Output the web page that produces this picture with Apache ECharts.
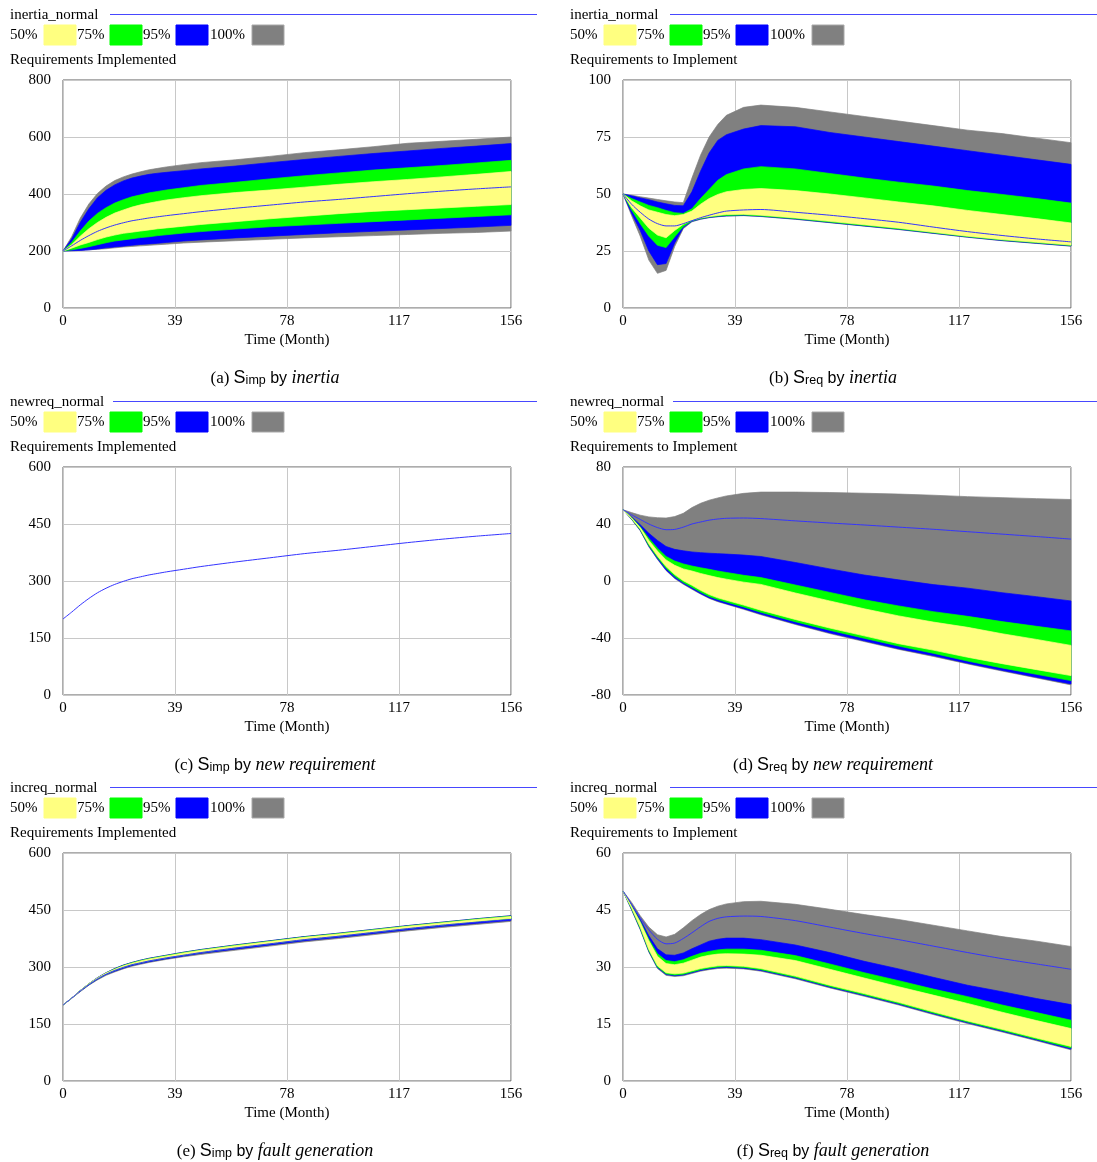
<!DOCTYPE html>
<html><head><meta charset="utf-8">
<script src="https://cdn.jsdelivr.net/npm/echarts@6/dist/echarts.min.js"></script>
<style>html,body{margin:0;padding:0;background:#fff}#c{width:1097px;height:1162px}</style>
</head><body><div id="c"></div>
<script>
// ---- time axis ----
const months = [0,3,6,9,12,15,18,21,24,27,30,33,36,42,48,60,72,84,96,108,120,132,144,156];
const xTicks = [0,39,78,117,156];

// ---- tick labels per panel (y) ----
const yTicksA = [0,200,400,600,800];
const yTicksB = [0,25,50,75,100];
const yTicksC = [0,150,300,450,600];
const yTicksD = [-80,-40,0,40,80];
const yTicksE = [0,150,300,450,600];
const yTicksF = [0,15,30,45,60];

// ---- legend / text ----
const legendLabels = ['50%','75%','95%','100%'];
const panelTitles = ['inertia_normal','newreq_normal','increq_normal'];
const yTitles = ['Requirements Implemented','Requirements to Implement'];
const captionLetters = ['a','b','c','d','e','f'];
const captionSubs = ['imp','req','imp','req','imp','req'];
const captionFactors = ['inertia','inertia','new requirement','new requirement','fault generation','fault generation'];

// ---- (a) Simp by inertia ----
const aGrayLo  = [200,201,202,204,206,208,211,214,216,218,220,222,224,228,231,236,241,246,250,254,258,262,265,270];
const aBlueLo  = [200,201,202,204,207,211,214,217,220,223,225,227,230,235,239,246,252,258,264,269,274,279,284,290];
const aGreenLo = [200,204,209,215,222,229,235,239,243,247,250,254,257,263,268,277,285,291,297,303,309,315,321,327];
const aYelLo   = [200,210,221,230,240,249,256,262,266,270,274,278,281,287,293,303,313,322,331,339,345,351,357,363];
const aYelHi   = [200,222,252,278,300,318,333,344,354,362,368,374,379,387,394,405,414,424,434,443,451,460,469,479];
const aGreenHi = [200,230,270,305,332,352,368,380,390,397,404,409,414,422,430,441,453,464,474,484,492,500,509,518];
const aBlueHi  = [200,242,300,348,387,413,432,446,456,463,469,473,476,482,488,498,510,521,532,542,551,560,568,577];
const aGrayHi  = [200,250,315,365,402,428,447,460,470,478,485,490,495,503,510,520,532,545,555,566,578,585,592,600];
const aBase    = [200,218,237,254,269,281,291,299,306,311,316,320,324,331,338,350,361,372,381,391,401,410,418,425];

// ---- (b) Sreq by inertia ----
const bGrayLo  = [50,40.5,31.5,21,15.2,16.5,27,34.8,37.8,38.9,39.6,40,40.3,40.5,40.1,38.9,37.4,35.9,34.4,32.7,31,29.5,28.3,27.1];
const bBlueLo  = [50,41.5,34,25,19,19.5,28.5,35.3,38,39,39.7,40.1,40.4,40.6,40.2,39,37.5,36,34.5,32.8,31.1,29.6,28.4,27.2];
const bGreenLo = [50,43,37,31.5,27.5,26.5,31.2,35.8,38.2,39.2,39.9,40.3,40.6,40.8,40.4,39.2,37.7,36.2,34.7,33,31.3,29.8,28.6,27.4];
const bYelLo   = [50,44,39.5,35,32,30.8,34,36.7,38.5,39.5,40.1,40.6,41,41.1,40.7,39.5,38,36.5,35,33.2,31.5,30,28.8,27.6];
const bYelHi   = [50,47,44.8,43,42,41,40.5,41,42.5,45.5,48,49.8,51,52,52.4,51.5,50,48.3,46.5,44.8,42.8,41,39.2,37.3];
const bGreenHi = [50,48,46.5,45,44,42.8,41.8,41.5,43.5,48,52,56,58.5,61,62,61,59,57,55.2,53.5,51.5,49.8,48,46];
const bBlueHi  = [50,49.2,48.3,47.5,46.5,45.7,45,44.8,51,60,68,73.5,76,78.5,80,79.5,77,75,73,71,69,67,65,63];
const bGrayHi  = [50,49.5,48.8,48.2,47.6,47,46.5,46.2,57,67,75,80.5,84.5,88,89,88,86,84,82,80,78,76.5,74.5,72.5];
const bBase    = [50,45.5,42,39,37,36,36,37,38.3,39.6,40.7,41.7,42.5,43,43.2,42,40.7,39.2,37.6,35.5,33.5,31.8,30.3,29];

// ---- (c) Simp by new requirement ----
const cBase    = [200,218,237,254,269,281,291,299,306,311,316,320,324,331,338,350,361,372,381,391,401,410,418,425];

// ---- (d) Sreq by new requirement ----
const dGrayLo  = [50,43.2,35.3,24,15.2,7.3,1.7,-2.3,-5.8,-9.2,-12.2,-14.5,-16.3,-19.9,-23.7,-30.5,-36.9,-42.5,-48,-52.9,-58.2,-63.2,-68,-72.9];
const dBlueLo  = [50,43.4,35.6,24.4,15.6,7.8,2.2,-1.8,-5.3,-8.8,-11.8,-14.1,-15.9,-19.4,-23.2,-30,-36.4,-42,-47.5,-52.3,-57.7,-62.7,-67.5,-72.2];
const dGreenLo = [50,43.6,36,25,16.5,9,3.3,-1,-4.3,-7.8,-10.8,-13,-14.8,-18.2,-22,-28.6,-34.6,-40.2,-45.7,-50.7,-56.2,-61,-65.5,-69.9];
const dYelLo   = [50,43.8,36.5,26,17.5,10.1,4.5,0.2,-3,-6.5,-9.5,-11.8,-13.5,-16.9,-20.5,-27,-33,-38.5,-44,-48.5,-53.5,-58,-62.2,-66.4];
const dYelHi   = [50,44.2,37.5,28.5,21,14.8,11,8.5,7,5.3,3.8,2.4,1.3,-0.8,-2.4,-8.4,-14,-19.5,-24.5,-28.8,-32.5,-37,-41,-45.2];
const dGreenHi = [50,44.5,38,30,23,17.2,14,12,10.5,9.3,8.2,7,6,4,2.4,-2.8,-8,-13.2,-17.5,-21.5,-24.8,-28.5,-31.8,-35];
const dBlueHi  = [50,45,39.5,33.5,28.5,24.2,22.2,21.2,20.4,19.9,19.5,19.2,18.9,18.2,17.2,13,8.5,4.2,0.8,-2.5,-5,-8.2,-11,-14];
const dGrayHi  = [50,48,46.2,45,44.4,44.2,45.2,47.5,51.5,54.5,56.7,58.3,59.7,61.5,62.4,62.4,62.1,61.6,61,60.2,59.2,58.5,57.8,57.2];
const dBase    = [50,46.5,43.2,40,37.5,36,36.2,37.8,40,41.4,42.7,43.5,44,44.2,43.8,42.2,40.7,39.3,37.8,36.3,34.6,32.9,31.2,29.4];

// ---- (e) Simp by fault generation ----
const eGrayLo  = [200,217,235,252,266,278,287,295,302,307,312,316,320,327,333,344,355,366,375,385,395,404,412,420];
const eBlueLo  = [200,218,236,253,268,280,289,297,304,309,314,318,322,329,336,347,358,369,378,388,398,407,415,423];
const eGreenLo = [200,218,237,254,269,281,291,299,306,311,316,320,324,331,338,350,361,372,381,391,401,410,419,427];
const eYelLo   = [200,218,237,255,270,282,292,300,307,312,317,321,325,332,339,351,362,373,382,392,402,411,420,428];
const eYelHi   = [200,218,238,256,271,284,294,303,310,316,321,325,329,337,344,356,367,378,387,397,407,416,425,433];
const eGreenHi = [200,218,238,256,271,284,295,304,311,317,322,326,330,338,345,357,368,379,388,398,408,417,426,434];
const eBlueHi  = [200,218,238,256,272,285,296,305,312,318,323,327,331,339,346,358,369,380,389,399,409,418,427,435];
const eGrayHi  = [200,218,238,256,272,285,296,305,312,318,323,327,331,339,346,358,369,380,389,399,409,418,427,435];
const eBase    = [200,218,237,254,269,281,291,299,306,311,316,320,324,331,338,350,361,372,381,391,401,410,418,425];

// ---- (f) Sreq by fault generation ----
const fGrayLo  = [50,45,39.8,33.9,29.6,27.8,27.5,27.7,28.3,28.9,29.3,29.6,29.7,29.5,28.9,26.9,24.5,22.3,20,17.5,15.1,12.9,10.6,8.2];
const fBlueLo  = [50,45.1,40,34.1,29.8,28,27.7,27.9,28.5,29.1,29.5,29.8,29.9,29.7,29.1,27.1,24.7,22.5,20.2,17.7,15.3,13.1,10.8,8.4];
const fGreenLo = [50,45.3,40.2,34.3,30,28.2,27.9,28.1,28.7,29.3,29.7,30,30.1,29.9,29.3,27.3,24.9,22.7,20.4,17.9,15.5,13.3,11,8.7];
const fYelLo   = [50,45.5,40.5,34.6,30.3,28.5,28.2,28.4,29,29.6,30,30.3,30.4,30.2,29.6,27.6,25.2,23,20.7,18.2,15.8,13.6,11.3,9.1];
const fYelHi   = [50,45.9,41.8,36.9,32.8,30.9,30.6,31,31.8,32.6,33.1,33.4,33.5,33.4,33.1,31.7,29.4,27.1,24.8,22.6,20.4,18.1,15.9,13.8];
const fGreenHi = [50,46,42,37.3,33.5,31.7,31.4,31.9,32.8,33.6,34.1,34.5,34.7,34.7,34.4,33,30.8,28.5,26.4,24.2,22.2,20,18,16];
const fBlueHi  = [50,46.2,42.5,38.2,34.8,33.2,33.1,33.7,34.8,35.8,36.8,37.3,37.6,37.6,37.2,35.8,33.8,31.5,29.5,27.3,25.2,23.5,21.7,20.1];
const fGrayHi  = [50,47,43.5,40.5,38.5,37.9,38.6,40.3,42.2,43.8,45.1,46,46.6,47.2,47.3,46.5,45.2,43.8,42.5,41,39.5,38,36.8,35.4];
const fBase    = [50,46.5,43,39.8,37.3,36.1,36.3,37.5,39,40.6,42,42.8,43.2,43.4,43.3,42.2,40.5,38.8,37.2,35.5,33.8,32.2,30.8,29.4];

// ---- styling ----
const C_YEL = '#ffff80', C_GRN = '#00ff00', C_BLU = '#0000ff', C_GRY = '#808080', C_LINE = '#3434ff';
const SERIF = '"Liberation Serif", "Times New Roman", serif';
const SANS = '"Liberation Sans", Arial, sans-serif';

const panels = [
  {yt: yTicksA, bands: [[aGrayLo,aGrayHi],[aBlueLo,aBlueHi],[aGreenLo,aGreenHi],[aYelLo,aYelHi]], base: aBase},
  {yt: yTicksB, bands: [[bGrayLo,bGrayHi],[bBlueLo,bBlueHi],[bGreenLo,bGreenHi],[bYelLo,bYelHi]], base: bBase},
  {yt: yTicksC, bands: [], base: cBase},
  {yt: yTicksD, bands: [[dGrayLo,dGrayHi],[dBlueLo,dBlueHi],[dGreenLo,dGreenHi],[dYelLo,dYelHi]], base: dBase},
  {yt: yTicksE, bands: [[eGrayLo,eGrayHi],[eBlueLo,eBlueHi],[eGreenLo,eGreenHi],[eYelLo,eYelHi]], base: eBase},
  {yt: yTicksF, bands: [[fGrayLo,fGrayHi],[fBlueLo,fBlueHi],[fGreenLo,fGreenHi],[fYelLo,fYelHi]], base: fBase}
];
const bandColors = [C_GRY, C_BLU, C_GRN, C_YEL];
const legendColors = [C_YEL, C_GRN, C_BLU, C_GRY];
const rowOffsets = [0, 387, 773];

const grids = [], xAxes = [], yAxes = [], series = [], graphics = [];
const labelStyle = {fontFamily: SERIF, fontSize: 15, color: '#000'};

panels.forEach(function (p, i) {
  const col = i % 2, row = Math.floor(i / 2);
  const ox = col * 560, oy = rowOffsets[row];
  grids.push({left: ox + 63, top: oy + 80, width: 448, height: 228, show: true,
    borderColor: '#5a5a5a', borderWidth: 1, backgroundColor: '#fff'});
  xAxes.push({type: 'value', gridIndex: i, min: xTicks[0], max: xTicks[xTicks.length - 1],
    interval: xTicks[1] - xTicks[0], axisLine: {show: false}, axisTick: {show: false},
    axisLabel: Object.assign({margin: 6}, labelStyle),
    splitLine: {show: true, lineStyle: {color: '#c8c8c8', width: 1}},
    name: 'Time (Month)', nameLocation: 'middle', nameGap: 25,
    nameTextStyle: {fontFamily: SERIF, fontSize: 15, color: '#000'}});
  yAxes.push({type: 'value', gridIndex: i, min: p.yt[0], max: p.yt[p.yt.length - 1],
    interval: p.yt[1] - p.yt[0], axisLine: {show: false}, axisTick: {show: false},
    axisLabel: Object.assign({margin: 12}, labelStyle),
    splitLine: {show: true, lineStyle: {color: '#c8c8c8', width: 1}}});

  p.bands.forEach(function (b, k) {
    const lo = b[0], hi = b[1], color = bandColors[k];
    series.push({
      type: 'custom', coordinateSystem: 'cartesian2d', xAxisIndex: i, yAxisIndex: i,
      silent: true, z: 2 + k * 0.01,
      data: [[months[0], lo[0]]],
      renderItem: function (params, api) {
        const pts = [];
        for (let j = 0; j < months.length; j++) pts.push(api.coord([months[j], hi[j]]));
        for (let j = months.length - 1; j >= 0; j--) pts.push(api.coord([months[j], lo[j]]));
        return {type: 'polygon', shape: {points: pts},
          style: {fill: color, stroke: color, lineWidth: 0.7}};
      }
    });
  });
  series.push({type: 'line', xAxisIndex: i, yAxisIndex: i, silent: true, z: 3,
    data: months.map(function (t, j) { return [t, p.base[j]]; }),
    symbol: 'none', smooth: 0.25, lineStyle: {color: C_LINE, width: 1}});

  // panel header: title + base-run line
  const title = panelTitles[row];
  graphics.push({type: 'text', x: ox + 10, y: oy + 15,
    style: {text: title, font: '15px ' + SERIF, fill: '#000', verticalAlign: 'middle', align: 'left'}});
  graphics.push({type: 'line', shape: {x1: ox + (row === 1 ? 113 : 110), y1: oy + 14.5, x2: ox + 537, y2: oy + 14.5},
    style: {stroke: '#4848ff', lineWidth: 1}});
  // legend row
  const lx = [10, 77, 143, 210], bx = [44, 110, 176, 252];
  legendLabels.forEach(function (lab, k) {
    graphics.push({type: 'text', x: ox + lx[k], y: oy + 35,
      style: {text: lab, font: '15px ' + SERIF, fill: '#000', verticalAlign: 'middle', align: 'left'}});
    graphics.push({type: 'rect', shape: {x: ox + bx[k], y: oy + 25, width: 32, height: 20},
      style: {fill: legendColors[k], stroke: k === 3 ? '#a8a8a8' : legendColors[k], lineWidth: 1}});
  });
  // y axis title
  graphics.push({type: 'text', x: ox + 10, y: oy + 60,
    style: {text: yTitles[col], font: '15px ' + SERIF, fill: '#000', verticalAlign: 'middle', align: 'left'}});
  // caption
  graphics.push({type: 'text', x: ox + 275 - col * 2, y: oy + 378,
    style: {
      text: '{p|(' + captionLetters[i] + ') }{s|S}{sub|' + captionSubs[i] + '}{b| by }{i|' + captionFactors[i] + '}',
      align: 'center', verticalAlign: 'middle',
      rich: {
        p: {fontFamily: SERIF, fontSize: 17, fill: '#000', verticalAlign: 'bottom'},
        s: {fontFamily: SANS, fontSize: 18, fill: '#000', verticalAlign: 'bottom'},
        sub: {fontFamily: SANS, fontSize: 12.5, fill: '#000', verticalAlign: 'bottom'},
        b: {fontFamily: SANS, fontSize: 16, fill: '#000', verticalAlign: 'bottom'},
        i: {fontFamily: SERIF, fontSize: 18, fontStyle: 'italic', fill: '#000', verticalAlign: 'bottom'}
      }
    }});
});

const chart = echarts.init(document.getElementById('c'), null, {renderer: 'canvas'});
chart.setOption({
  animation: false,
  backgroundColor: '#fff',
  textStyle: {fontFamily: SERIF},
  grid: grids, xAxis: xAxes, yAxis: yAxes, series: series, graphic: graphics
});
</script>
</body></html>
